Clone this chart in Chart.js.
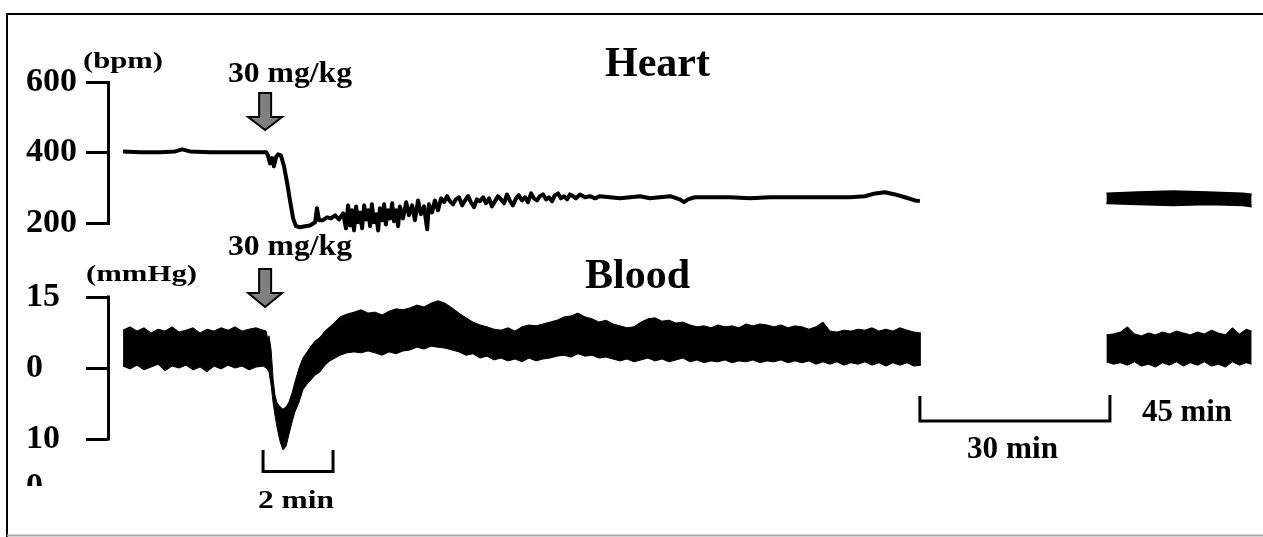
<!DOCTYPE html>
<html>
<head>
<meta charset="utf-8">
<title>Heart rate and blood pressure after 30 mg/kg</title>
<script src="https://cdn.jsdelivr.net/npm/chart.js@4.4.1/dist/chart.umd.min.js"></script>
<style>
  html, body { margin: 0; padding: 0; background: #fff; }
  #wrap { position: relative; width: 1263px; height: 537px; }
  #wrap canvas { position: absolute; left: 0; top: 0; }
</style>
</head>
<body>
<div id="wrap">
  <canvas id="heart" width="1263" height="537"></canvas>
  <canvas id="blood" width="1263" height="537"></canvas>
</div>
<script>
// ---- data (time in min along the drawn, broken axis) ----
const doseLabel = '30 mg/kg';
const doseTime = 4.06;

const heartTicks = [200, 400, 600];
const heartTickLabels = ['200', '400', '600'];
const bloodTicks = [-15, 0, 15];
const bloodTickLabels = ['10', '0', '15'];

// heart rate (bpm), first recording
const heartTime = [
  0.00, 0.49, 1.06, 1.49, 1.69, 1.91, 2.49, 3.06, 3.63, 4.09,
  4.14, 4.20, 4.26, 4.31, 4.37, 4.43, 4.51, 4.60, 4.69, 4.77,
  4.86, 4.94, 5.06, 5.20, 5.34, 5.49, 5.54, 5.60, 5.71, 5.83,
  5.94, 6.06, 6.17, 6.29, 6.37, 6.43, 6.49, 6.54, 6.60, 6.66,
  6.71, 6.77, 6.83, 6.89, 6.94, 7.00, 7.06, 7.11, 7.17, 7.23,
  7.29, 7.34, 7.40, 7.46, 7.51, 7.57, 7.63, 7.69, 7.74, 7.80,
  7.86, 7.91, 8.00, 8.09, 8.17, 8.26, 8.34, 8.43, 8.51, 8.60,
  8.69, 8.74, 8.83, 8.91, 9.00, 9.09, 9.17, 9.26, 9.34, 9.43,
  9.51, 9.60, 9.69, 9.77, 9.86, 9.94, 10.03, 10.11, 10.20, 10.29,
  10.37, 10.46, 10.54, 10.63, 10.71, 10.80, 10.89, 10.97, 11.06, 11.14,
  11.23, 11.31, 11.40, 11.49, 11.57, 11.66, 11.74, 11.83, 11.91, 12.00,
  12.09, 12.17, 12.26, 12.34, 12.43, 12.51, 12.60, 12.69, 12.77, 12.86,
  12.94, 13.06, 13.20, 13.34, 13.49, 13.63, 13.91, 14.20, 14.49, 14.77,
  15.06, 15.34, 15.63, 15.91, 16.03, 16.14, 16.34, 16.77, 17.34, 17.91,
  18.49, 19.06, 19.63, 20.20, 20.77, 21.20, 21.49, 21.77, 22.06, 22.34,
  22.63, 22.77
];
const heartRate = [
  403, 401, 401, 403, 409, 403, 401, 401, 401, 401,
  392, 369, 384, 361, 386, 395, 392, 361, 313, 264,
  213, 191, 188, 191, 193, 202, 242, 208, 208, 216,
  213, 222, 210, 227, 185, 250, 193, 236, 179, 247,
  202, 230, 185, 250, 210, 236, 191, 253, 202, 225,
  179, 242, 208, 253, 196, 236, 213, 256, 205, 236,
  191, 247, 213, 259, 222, 250, 208, 264, 225, 247,
  182, 253, 230, 264, 236, 270, 259, 276, 262, 253,
  267, 273, 250, 264, 276, 259, 245, 267, 262, 273,
  256, 270, 247, 262, 276, 267, 256, 281, 262, 250,
  270, 279, 264, 273, 259, 284, 270, 264, 276, 281,
  267, 273, 262, 279, 284, 270, 276, 267, 281, 276,
  270, 281, 273, 276, 270, 276, 273, 270, 273, 276,
  270, 273, 276, 267, 259, 267, 273, 273, 273, 270,
  273, 273, 273, 273, 273, 276, 284, 287, 281, 273,
  264, 262
];

// heart rate at 45 min (thick trace: upper / lower edge)
const heartLateTime = [28.1, 29.0, 30.0, 31.0, 32.0, 32.25];
const heartLateHigh = [284, 287, 290, 287, 284, 281];
const heartLateLow = [256, 253, 250, 253, 250, 247];

// blood pressure (mmHg), envelope of the pulsatile trace
const bloodTime = [
  0.0, 0.2, 0.4, 0.6, 0.8, 1.0, 1.2, 1.4, 1.6, 1.8,
  2.0, 2.2, 2.4, 2.6, 2.8, 3.0, 3.2, 3.4, 3.6, 3.8,
  4.0,
  4.09, 4.14, 4.17, 4.23, 4.29, 4.34, 4.40, 4.49, 4.57, 4.66,
  4.74, 4.83, 4.91, 5.03, 5.14, 5.26, 5.37, 5.49, 5.63, 5.77,
  5.91, 6.06,
  6.2, 6.4, 6.6, 6.8, 7.0, 7.2, 7.4, 7.6, 7.8, 8.0,
  8.2, 8.4, 8.6, 8.8, 9.0, 9.2, 9.4, 9.6, 9.8, 10.0,
  10.2, 10.4, 10.6, 10.8, 11.0, 11.2, 11.4, 11.6, 11.8, 12.0,
  12.2, 12.4, 12.6, 12.8, 13.0, 13.2, 13.4, 13.6, 13.8, 14.0,
  14.2, 14.4, 14.6, 14.8, 15.0, 15.2, 15.4, 15.6, 15.8, 16.0,
  16.2, 16.4, 16.6, 16.8, 17.0, 17.2, 17.4, 17.6, 17.8, 18.0,
  18.2, 18.4, 18.6, 18.8, 19.0, 19.2, 19.4, 19.6, 19.8, 20.0,
  20.2, 20.4, 20.6, 20.8, 21.0, 21.2, 21.4, 21.6, 21.8, 22.0,
  22.2, 22.4, 22.6, 22.8
];
const bloodHigh = [
  8.0, 8.7, 7.8, 8.5, 7.4, 8.2, 7.8, 8.7, 7.6, 8.0,
  8.5, 7.4, 8.2, 7.8, 8.5, 8.0, 8.7, 7.8, 8.2, 8.5,
  8.0,
  7.8, 5.9, 6.8, 3.8, -2.5, -5.7, -7.4, -8.2, -8.7, -8.2,
  -7.2, -5.3, -3.0, 0.0, 2.1, 3.4, 4.6, 5.7, 6.5, 7.8,
  8.7, 9.7,
  10.8, 11.4, 11.8, 12.3, 11.6, 11.8, 11.2, 12.0, 12.5, 12.3,
  12.7, 13.3, 12.9, 13.7, 14.2, 13.7, 12.7, 11.6, 10.6, 9.7,
  9.1, 8.7, 8.2, 8.0, 8.5, 7.8, 8.7, 9.1, 8.9, 9.3,
  9.7, 10.1, 10.8, 11.0, 11.6, 10.8, 10.4, 9.7, 10.1, 9.3,
  8.9, 8.5, 8.7, 9.7, 10.4, 10.6, 9.9, 10.1, 9.5, 9.7,
  9.1, 8.7, 8.9, 8.5, 9.1, 8.7, 8.9, 8.5, 9.3, 8.9,
  9.3, 9.1, 8.7, 9.1, 8.5, 8.9, 8.7, 8.2, 8.7, 9.7,
  7.8, 7.6, 8.0, 7.8, 8.2, 8.0, 8.5, 7.8, 8.2, 7.8,
  8.5, 8.0, 7.6, 7.4
];
const bloodLow = [
  0.4, -0.2, 0.6, -0.4, 0.2, 0.8, -0.6, 0.4, 0.0, 0.6,
  -0.4, 0.2, -0.8, 0.4, -0.2, 0.6, 0.0, 0.4, -0.4, 0.2,
  0.4,
  0.0, -0.4, -0.8, -3.6, -7.4, -9.9, -12.5, -15.6, -17.3, -16.5,
  -14.0, -11.4, -9.3, -7.2, -4.6, -3.4, -2.5, -1.5, -0.8, 0.6,
  1.5, 2.1,
  2.7, 3.2, 3.4, 3.2, 3.6, 3.2, 2.7, 3.4, 3.0, 3.6,
  3.8, 4.4, 4.0, 4.6, 4.4, 4.2, 3.8, 3.4, 2.7, 3.0,
  2.1, 2.5, 1.7, 2.1, 1.5, 1.9, 1.3, 2.1, 1.5, 1.9,
  2.1, 2.5, 2.7, 2.3, 3.0, 2.5, 2.7, 2.1, 2.3, 1.9,
  1.5, 1.9, 1.3, 1.7, 2.1, 1.5, 1.9, 1.3, 1.7, 2.1,
  1.3, 1.7, 1.1, 1.5, 1.3, 1.7, 1.1, 1.5, 1.3, 1.7,
  1.1, 1.5, 1.3, 1.7, 1.1, 1.5, 1.1, 1.5, 0.8, 1.3,
  0.8, 1.3, 0.6, 1.1, 0.8, 1.3, 0.6, 1.1, 0.4, 1.1,
  0.6, 1.1, 0.4, 0.6
];

// blood pressure at 45 min
const bloodLateTime = [
  28.1, 28.3, 28.5, 28.7, 28.9, 29.1, 29.3, 29.5, 29.7, 29.9,
  30.1, 30.3, 30.5, 30.7, 30.9, 31.1, 31.3, 31.5, 31.7, 31.9,
  32.1, 32.25
];
const bloodLateHigh = [
  7.0, 7.2, 7.6, 8.7, 7.2, 6.8, 7.4, 7.0, 7.6, 7.2,
  7.8, 7.4, 7.0, 7.6, 7.2, 8.0, 7.4, 7.0, 8.5, 7.2,
  8.2, 7.8
];
const bloodLateLow = [
  1.3, 0.8, 1.1, 0.6, 1.3, 0.4, 0.8, 0.2, 1.1, 0.6,
  1.3, 0.4, 1.1, 0.6, 1.3, 0.4, 0.8, 0.2, 1.3, 0.6,
  1.1, 0.8
];

// scale bars (min on the drawn axis)
const twoMinBar = [4.0, 6.0];
const breakBar = [22.77, 28.2];

// ---- helpers ----
const serif = "'Liberation Serif', 'Times New Roman', serif";
Chart.defaults.font.family = serif;
Chart.defaults.color = '#000';

const pts = (xs, ys) => xs.map((t, i) => ({ x: t, y: ys[i] }));

function stretchText(ctx, text, left, baseline, size, width) {
  ctx.font = `bold ${size}px ${serif}`;
  const w = ctx.measureText(text).width;
  ctx.save();
  ctx.translate(left, baseline);
  ctx.scale(width / w, 1);
  ctx.textAlign = 'left';
  ctx.textBaseline = 'alphabetic';
  ctx.fillStyle = '#000';
  ctx.fillText(text, 0, 0);
  ctx.restore();
}

function drawArrow(ctx, cx, top, neck, tip) {
  ctx.save();
  ctx.beginPath();
  ctx.moveTo(cx - 6, top);
  ctx.lineTo(cx + 6, top);
  ctx.lineTo(cx + 6, neck);
  ctx.lineTo(cx + 17, neck);
  ctx.lineTo(cx, tip);
  ctx.lineTo(cx - 17, neck);
  ctx.lineTo(cx - 6, neck);
  ctx.closePath();
  ctx.fillStyle = '#808080';
  ctx.fill();
  ctx.lineWidth = 2;
  ctx.strokeStyle = '#000';
  ctx.stroke();
  ctx.restore();
}

function yAxis(min, max, ticks, labels, showBorder) {
  return {
    min: min,
    max: max,
    afterBuildTicks: s => { s.ticks = ticks.map(v => ({ value: v })); },
    afterFit: s => { s.width = 82; },
    ticks: {
      crossAlign: 'far',
      color: '#000',
      font: { size: 34, weight: 'bold' },
      callback: (v, i) => labels[i]
    },
    grid: { drawOnChartArea: false, drawTicks: true, tickLength: 22, lineWidth: 3, color: '#000' },
    border: { display: showBorder, width: 3, color: '#000' }
  };
}

const xAxis = { type: 'linear', min: -0.43, max: 32.26, display: false };

function trace(data, width, fill) {
  return {
    data: data,
    borderColor: '#000',
    backgroundColor: '#000',
    borderWidth: width,
    pointRadius: 0,
    tension: 0,
    fill: fill,
    clip: false,
    borderJoinStyle: 'round'
  };
}

// ---- heart panel ----
const heartDecor = {
  id: 'heartDecor',
  beforeDraw(chart) {
    const ctx = chart.ctx;
    ctx.save();
    ctx.fillStyle = '#fff';
    ctx.fillRect(0, 0, chart.width, chart.height);
    ctx.restore();
  },
  afterDraw(chart) {
    const ctx = chart.ctx;
    const x = chart.scales.x;
    ctx.save();
    ctx.lineWidth = 2;
    ctx.strokeStyle = '#000';
    ctx.beginPath();
    ctx.moveTo(7, 537);
    ctx.lineTo(7, 14);
    ctx.lineTo(1263, 14);
    ctx.stroke();
    ctx.strokeStyle = '#a6a6a6';
    ctx.beginPath();
    ctx.moveTo(7, 535.5);
    ctx.lineTo(1263, 535.5);
    ctx.stroke();
    ctx.restore();

    stretchText(ctx, '(bpm)', 83, 68, 23, 80);
    stretchText(ctx, doseLabel, 228, 82, 30, 124);
    stretchText(ctx, 'Heart', 605, 76, 42, 105);
    drawArrow(ctx, x.getPixelForValue(doseTime), 93, 117, 130);
  }
};

new Chart(document.getElementById('heart'), {
  type: 'line',
  data: {
    datasets: [
      trace(pts(heartTime, heartRate), 4, false),
      trace(pts(heartLateTime, heartLateLow), 2, false),
      trace(pts(heartLateTime, heartLateHigh), 2, '-1')
    ]
  },
  options: {
    responsive: false,
    animation: false,
    devicePixelRatio: 1,
    layout: { padding: { left: 26, top: 82, right: 11, bottom: 314 } },
    plugins: { legend: { display: false }, tooltip: { enabled: false } },
    scales: { x: xAxis, y: yAxis(200, 600, heartTicks, heartTickLabels, true) }
  },
  plugins: [heartDecor]
});

// ---- blood panel ----
const bloodDecor = {
  id: 'bloodDecor',
  afterDraw(chart) {
    const ctx = chart.ctx;
    const x = chart.scales.x;
    const y = chart.scales.y;
    const left = chart.chartArea.left + 0.5;

    ctx.save();
    ctx.strokeStyle = '#000';
    ctx.lineWidth = 3;
    // axis bracket between the outer ticks
    ctx.beginPath();
    ctx.moveTo(left, y.getPixelForValue(bloodTicks[2]) - 1.5);
    ctx.lineTo(left, y.getPixelForValue(bloodTicks[0]) + 1.5);
    ctx.stroke();

    // 2 min scale bar
    const a = x.getPixelForValue(twoMinBar[0]);
    const b = x.getPixelForValue(twoMinBar[1]);
    ctx.beginPath();
    ctx.moveTo(a, 450); ctx.lineTo(a, 471.5); ctx.lineTo(b, 471.5); ctx.lineTo(b, 450);
    ctx.stroke();

    // 30 min break
    const c = x.getPixelForValue(breakBar[0]);
    const d = x.getPixelForValue(breakBar[1]);
    ctx.beginPath();
    ctx.moveTo(c, 396); ctx.lineTo(c, 421); ctx.lineTo(d, 421); ctx.lineTo(d, 395);
    ctx.stroke();
    ctx.restore();

    stretchText(ctx, '(mmHg)', 86, 281, 23, 111);
    stretchText(ctx, doseLabel, 228, 255, 30, 124);
    stretchText(ctx, 'Blood', 585, 288, 42, 105);
    drawArrow(ctx, x.getPixelForValue(doseTime), 269, 293, 307);
    stretchText(ctx, '2 min', 258, 508, 25, 76);
    stretchText(ctx, '30 min', 967, 458, 31, 91);
    stretchText(ctx, '45 min', 1142, 421, 31, 90);

    // last axis label, cut off at the panel's lower edge
    ctx.save();
    ctx.beginPath();
    ctx.rect(0, 0, 200, 486);
    ctx.clip();
    ctx.font = `bold 34px ${serif}`;
    ctx.fillStyle = '#000';
    ctx.textBaseline = 'alphabetic';
    ctx.fillText('0', 26, 496);
    ctx.restore();
  }
};

new Chart(document.getElementById('blood'), {
  type: 'line',
  data: {
    datasets: [
      trace(pts(bloodTime, bloodLow), 1, false),
      trace(pts(bloodTime, bloodHigh), 1, '-1'),
      trace(pts(bloodLateTime, bloodLateLow), 1, false),
      trace(pts(bloodLateTime, bloodLateHigh), 1, '-1')
    ]
  },
  options: {
    responsive: false,
    animation: false,
    devicePixelRatio: 1,
    layout: { padding: { left: 26, top: 297, right: 11, bottom: 81.43 } },
    plugins: { legend: { display: false }, tooltip: { enabled: false } },
    scales: { x: xAxis, y: yAxis(-18.5, 15, bloodTicks, bloodTickLabels, false) }
  },
  plugins: [bloodDecor]
});
</script>
</body>
</html>
